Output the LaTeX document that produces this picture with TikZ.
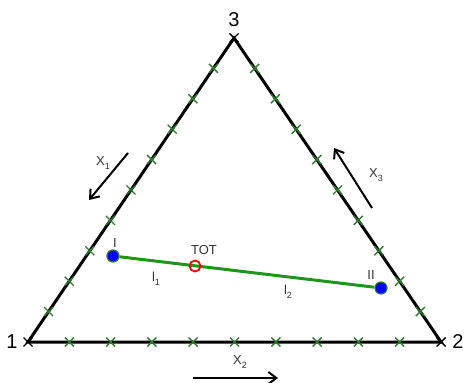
\documentclass[tikz,border=0pt]{standalone}
\usepackage{fontspec}
\setmainfont{Liberation Sans}
\definecolor{tickgreen}{HTML}{2E7A2E}
\definecolor{linegreen}{HTML}{1E961E}
\definecolor{textgray}{HTML}{333333}
\usetikzlibrary{calc, arrows.meta, positioning, backgrounds}
\newcommand{\lowsub}[1]{\raisebox{-2.2pt}{\fontsize{4.5}{5}\selectfont #1}}
\tikzset{
	tickcross/.pic={
			\draw[#1, line width=0.7pt] (-4.5,-4.5) -- (4.5,4.5) (-4.5,4.5) -- (4.5,-4.5);
		}
}
\tikzset{
	vertextext/.style={font=\fontsize{10}{11}\selectfont}
}
\tikzset{
	smalltext/.style={font=\fontsize{6.5}{7}\selectfont\color{textgray}}
}
\tikzset{
	phasedot/.style={circle, fill=blue, draw=tickgreen, line width=0.6pt, minimum size=6pt, inner sep=0pt}
}

\begin{document}
\begin{tikzpicture}[x=0.5pt, y=-0.5pt]

			\useasboundingbox (0,0) rectangle (469,383);

			\coordinate (v1) at (28,342);
			\coordinate (v2) at (441,342);
			\coordinate (v3) at (234,38);

			\draw[line width=1.5pt, line join=miter] (v1) -- (v2) -- (v3) -- cycle;

			\pic at (v1) {tickcross={black}};
			\pic at (v2) {tickcross={black}};
			\pic at (v3) {tickcross={black}};

			\node[vertextext] (n1) at (12,342) {1};
			\node[vertextext] (n2) at (458,342) {2};
			\node[vertextext] (n3) at (234,20) {3};

			\begin{scope}
				% bottom edge
				\pic at ($(v1)!0.1!(v2)$) {tickcross={tickgreen}};
				\pic at ($(v1)!0.2!(v2)$) {tickcross={tickgreen}};
				\pic at ($(v1)!0.3!(v2)$) {tickcross={tickgreen}};
				\pic at ($(v1)!0.4!(v2)$) {tickcross={tickgreen}};
				\pic at ($(v1)!0.5!(v2)$) {tickcross={tickgreen}};
				\pic at ($(v1)!0.6!(v2)$) {tickcross={tickgreen}};
				\pic at ($(v1)!0.7!(v2)$) {tickcross={tickgreen}};
				\pic at ($(v1)!0.8!(v2)$) {tickcross={tickgreen}};
				\pic at ($(v1)!0.9!(v2)$) {tickcross={tickgreen}};
				% left edge
				\pic at ($(v1)!0.1!(v3)$) {tickcross={tickgreen}};
				\pic at ($(v1)!0.2!(v3)$) {tickcross={tickgreen}};
				\pic at ($(v1)!0.3!(v3)$) {tickcross={tickgreen}};
				\pic at ($(v1)!0.4!(v3)$) {tickcross={tickgreen}};
				\pic at ($(v1)!0.5!(v3)$) {tickcross={tickgreen}};
				\pic at ($(v1)!0.6!(v3)$) {tickcross={tickgreen}};
				\pic at ($(v1)!0.7!(v3)$) {tickcross={tickgreen}};
				\pic at ($(v1)!0.8!(v3)$) {tickcross={tickgreen}};
				\pic at ($(v1)!0.9!(v3)$) {tickcross={tickgreen}};
				% right edge
				\pic at ($(v2)!0.1!(v3)$) {tickcross={tickgreen}};
				\pic at ($(v2)!0.2!(v3)$) {tickcross={tickgreen}};
				\pic at ($(v2)!0.3!(v3)$) {tickcross={tickgreen}};
				\pic at ($(v2)!0.4!(v3)$) {tickcross={tickgreen}};
				\pic at ($(v2)!0.5!(v3)$) {tickcross={tickgreen}};
				\pic at ($(v2)!0.6!(v3)$) {tickcross={tickgreen}};
				\pic at ($(v2)!0.7!(v3)$) {tickcross={tickgreen}};
				\pic at ($(v2)!0.8!(v3)$) {tickcross={tickgreen}};
				\pic at ($(v2)!0.9!(v3)$) {tickcross={tickgreen}};
			\end{scope}

			\begin{scope}
				\tikzset{
					compharrow/.style={line width=1pt, -{Straight Barb[length=4pt, width=6pt]}}
				}

				\coordinate (a1s) at (128,153);
				\coordinate (a1e) at (89,200);
				\coordinate (a2s) at (193,378);
				\coordinate (a2e) at (278,378);
				\coordinate (a3s) at (372,208);
				\coordinate (a3e) at (334,148);

				\draw[compharrow] (a1s) -- (a1e);
				\draw[compharrow] (a2s) -- (a2e);
				\draw[compharrow] (a3s) -- (a3e);

				\node[smalltext] (x1) at (103,163) {X\lowsub{1}};
				\node[smalltext] (x2) at (240,362) {X\lowsub{2}};
				\node[smalltext] (x3) at (376,175) {X\lowsub{3}};
			\end{scope}

			\node[phasedot] (pI) at (113,256) {};
			\node[phasedot] (pII) at (381,288) {};
			\node[circle, draw=red, line width=0.9pt, minimum size=5.5pt, inner sep=0pt] (tot) at (195,266) {};

			\begin{scope}[on background layer]
				\draw[linegreen, line width=1.5pt] (pI) -- (pII);
			\end{scope}

			\node[smalltext] (lI) at (115,243) {I};
			\node[smalltext] (lII) at (371,275) {II};
			\node[smalltext] (ltot) at (204,250) {TOT};
			\node[smalltext] (l1) at (156,279) {l\lowsub{1}};
			\node[smalltext] (l2) at (288,292) {l\lowsub{2}};

		\end{tikzpicture}
\end{document}
